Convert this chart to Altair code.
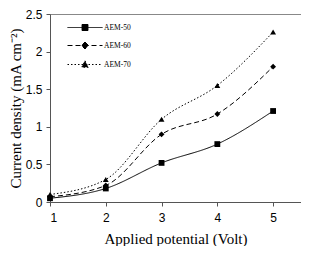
import altair as alt
import pandas as pd

potential = [1, 2, 3, 4, 5]
series = ["AEM-50", "AEM-60", "AEM-70"]
aem50 = [0.05, 0.18, 0.52, 0.77, 1.21]
aem60 = [0.07, 0.22, 0.90, 1.17, 1.80]
aem70 = [0.10, 0.30, 1.10, 1.55, 2.26]
y_ticks = [0, 0.5, 1, 1.5, 2, 2.5]

rows = []
for name, vals in zip(series, [aem50, aem60, aem70]):
    for xv, yv in zip(potential, vals):
        rows.append({"V": xv, "J": yv, "S": name})
df = pd.DataFrame(rows)

dashes = [[1, 0], [5, 3], [1.5, 2]]
shapes = ["square", "diamond", "triangle-up"]
# legend glyphs: a short line with the marker in its middle (unit = 5 px)
legend_paths = [
    "M-1,0L6,0M1.9,-0.6L3.1,-0.6L3.1,0.6L1.9,0.6Z",
    "M-1,0L6,0M2.5,-0.7L3.2,0L2.5,0.7L1.8,0Z",
    "M-1,0L6,0M2.5,-0.75L3.15,0.55L1.85,0.55Z",
]

x = alt.X("V:Q", scale=alt.Scale(domain=[1, 5.5], nice=False),
          axis=alt.Axis(values=potential, title="Applied potential (Volt)", format="d",
                        labelPadding=6, titlePadding=8))
y = alt.Y("J:Q", scale=alt.Scale(domain=[0, 2.5], nice=False),
          axis=alt.Axis(values=y_ticks, format="~g", title="Current density (mA cm\u207b\u00b2)",
                        labelPadding=4, titlePadding=2))

lines = alt.Chart(df).mark_line(interpolate="monotone", color="black", strokeWidth=1).encode(
    x=x, y=y,
    strokeDash=alt.StrokeDash("S:N", scale=alt.Scale(domain=series, range=dashes), legend=None),
)
points = alt.Chart(df).mark_point(filled=True, color="black", size=34, opacity=1).encode(
    x=x, y=y,
    shape=alt.Shape("S:N", scale=alt.Scale(domain=series, range=shapes), legend=None),
)
leg = alt.Legend(title=None, orient="none", legendX=17, legendY=8,
                 symbolSize=100, symbolStrokeWidth=1, labelFont="Liberation Serif",
                 labelFontSize=7.5, labelColor="black", rowPadding=7, labelOffset=26)
legend_layer = alt.Chart(df).transform_filter("false").mark_point(
    filled=False, fill="black", stroke="black", strokeWidth=1, size=100, opacity=1).encode(
    x=x, y=y,
    shape=alt.Shape("S:N", scale=alt.Scale(domain=series, range=legend_paths), legend=leg),
    strokeDash=alt.StrokeDash("S:N", scale=alt.Scale(domain=series, range=dashes), legend=leg),
)

chart = alt.layer(lines, points, legend_layer).resolve_scale(
    shape="independent", strokeDash="independent"
).properties(
    width=293, height=238, padding=0,
    autosize=alt.AutoSizeParams(type="fit", contains="padding"),
).configure_view(stroke="#888", strokeWidth=1).configure_axis(
    grid=False, domainColor="#555", tickColor="#555", tickSize=4,
    labelFont="Liberation Sans", labelFontSize=12, labelColor="black",
    titleFont="Liberation Serif", titleFontSize=15, titleFontWeight="normal", titleColor="black",
)

chart.save("out.html", embed_options={"renderer": "svg", "actions": False})
